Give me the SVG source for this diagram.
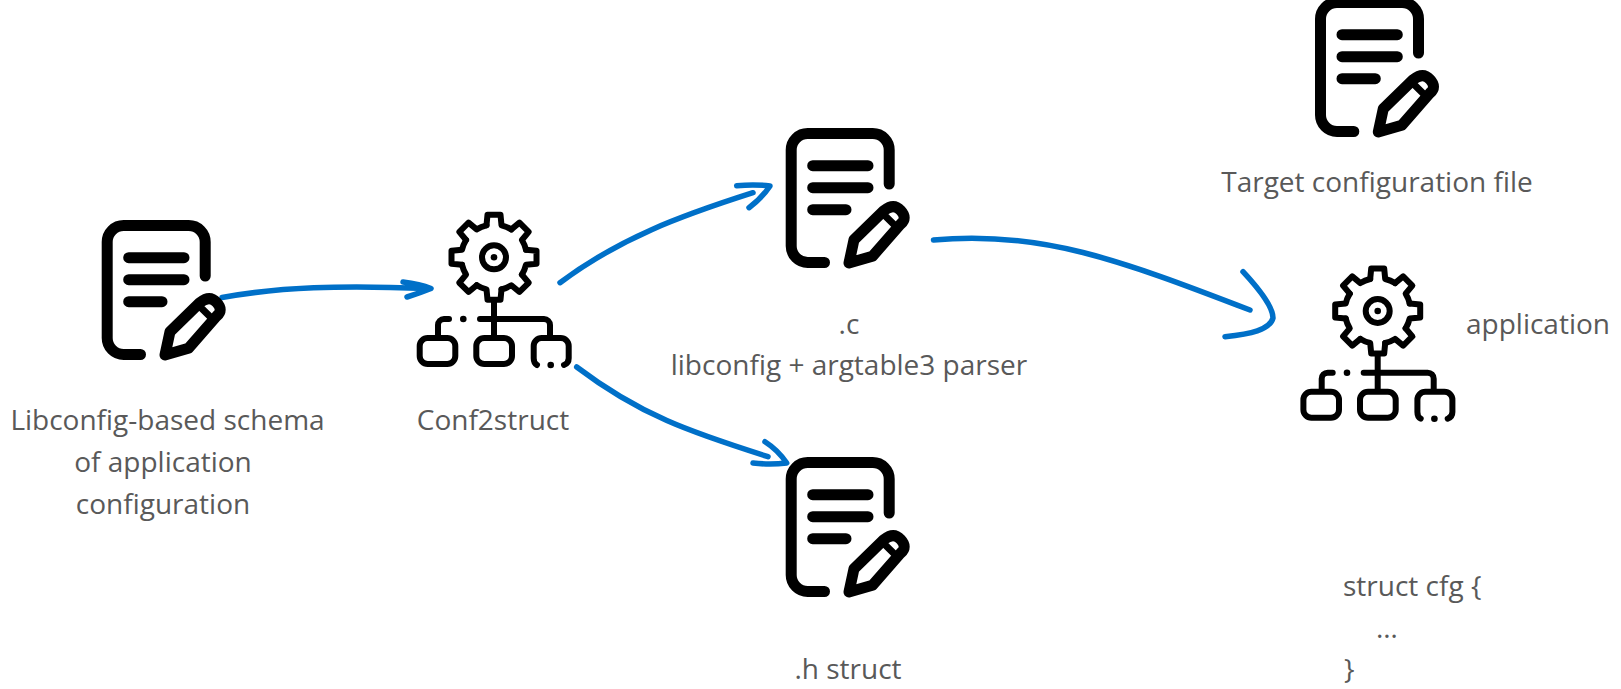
<svg xmlns="http://www.w3.org/2000/svg" xmlns:xlink="http://www.w3.org/1999/xlink" width="1621" height="689" viewBox="0 0 1621 689">
<style>
.k{fill:none;stroke:#000;stroke-linecap:round;stroke-linejoin:round}
.d{stroke-width:11}
.g{stroke-width:6}
.a{fill:none;stroke:#0070c8;stroke-width:5.5;stroke-linecap:round;stroke-linejoin:round}
text{font-family:"Open Sans","Noto Sans",sans-serif;font-size:28px;fill:#595959}
.m{text-anchor:middle}
</style>
<defs>
<g id="doc">
<path class="k d" d="M38.8,134.5H22A16.5,16.5 0 0 1 5.500,118V22A16.500,16.500 0 0 1 22,5.500H87A16.500,16.500 0 0 1 103.500,22V56"/>
<path class="k d" d="M27,37.700H82.300M27,59.700H82.300M27,81.700H60.300"/>
<path class="k d" d="M63.300,135L68.300,111.700L98.300,82.500Q108,75 115,82.500Q122,90 115,96L86.700,128.300Z"/>
<path class="k" stroke-width="7" d="M98.300,86.700L110,98.300"/>
</g>
<path id="seg" class="k g" d="M-7.500,-32L-6.500,-42.500H6.500L7.500,-32A33,33 0 0 1 17.320,-27.930"/>
<g id="gear">
<use href="#seg"/><use href="#seg" transform="rotate(45)"/><use href="#seg" transform="rotate(90)"/><use href="#seg" transform="rotate(135)"/><use href="#seg" transform="rotate(180)"/><use href="#seg" transform="rotate(225)"/><use href="#seg" transform="rotate(270)"/><use href="#seg" transform="rotate(315)"/>
<circle class="k g" r="12"/>
<circle r="3.300" fill="#000"/>
<path class="k g" d="M0,44V79M-14,61.700H50A6,6 0 0 1 56,67.700V79M-45,61.700H-50A6,6 0 0 0 -56,67.700V79"/>
<circle cx="-30.700" cy="61.700" r="3.300" fill="#000"/>
<rect class="k g" x="-74.300" y="80.700" width="35.600" height="26" rx="8"/>
<rect class="k g" x="-17.700" y="80.700" width="35.700" height="26" rx="8"/>
<path class="k g" d="M43,107.700Q39.700,106 39.700,101V88.700A8,8 0 0 1 47.700,80.700H66.700A8,8 0 0 1 74.700,88.700V101Q74.700,106 70,107.700"/>
<circle cx="56.700" cy="107.700" r="3.300" fill="#000"/>
</g>
</defs>
<g id="connectors">
<path class="a" d="M222,297.500C280,287 340,285 428,288.500M403,282Q420,284 431,288.500Q420,293 407,297"/>
<path class="a" d="M560,282.700C620,238 680,216 753,192.700M736.700,185.700Q755,184 770,186Q762,198 749,207.700"/>
<path class="a" d="M576.700,367C640,415 690,432 768,456.700M765,441.700Q778,450 786.700,463Q770,465 753,463"/>
<path class="a" d="M933.500,240C1040,230 1120,260 1250,310M1243,271.700C1260,290 1273,308 1273,318C1270,330 1250,334 1225,336.700"/>
</g>
<g id="node-schema"><use href="#doc" x="101.700" y="220"/>
<text class="m" x="167.500" y="430">Libconfig-based schema</text><text class="m" x="163" y="472">of application</text><text class="m" x="163" y="514">configuration</text></g>
<g id="node-conf2struct"><use href="#gear" x="494" y="257.300"/>
<text class="m" x="493" y="430">Conf2struct</text></g>
<g id="node-c"><use href="#doc" x="785.700" y="128"/>
<text class="m" x="849" y="334">.c</text><text class="m" x="849" y="375">libconfig + argtable3 parser</text></g>
<g id="node-h"><use href="#doc" x="785.700" y="457"/>
<text class="m" x="848" y="679">.h struct</text></g>
<g id="node-target"><use href="#doc" x="1315" y="-3"/>
<text class="m" x="1377" y="192">Target configuration file</text></g>
<g id="node-application"><use href="#gear" x="1377.700" y="311"/>
<text x="1466" y="334">application</text></g>
<g id="node-struct"><text x="1343" y="596">struct cfg {</text><text x="1376" y="638">…</text><text x="1344" y="679">}</text></g>
</svg>
